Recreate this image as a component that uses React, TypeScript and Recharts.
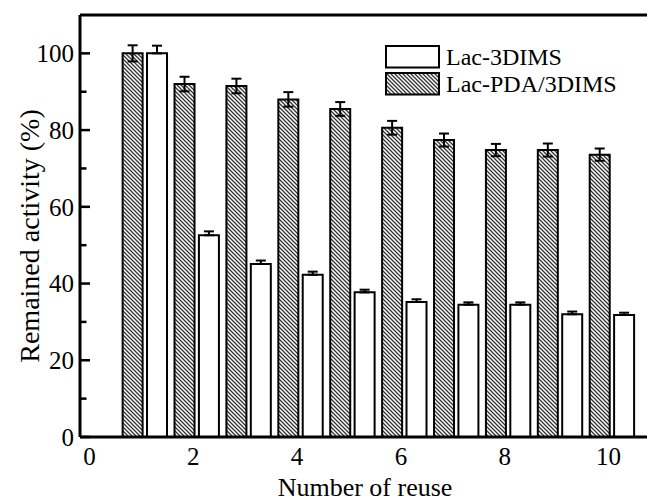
import React from 'react';
import { ComposedChart, Bar, XAxis, YAxis, ErrorBar, ReferenceLine, Label } from 'recharts';

const reuse = [1, 2, 3, 4, 5, 6, 7, 8, 9, 10];
const lac3DIMS = [100, 52.6, 45.1, 42.3, 37.7, 35.2, 34.5, 34.5, 32.0, 31.8];
const lac3DIMSErr = [2.0, 1.0, 0.9, 0.8, 0.7, 0.7, 0.6, 0.6, 0.7, 0.6];
const lacPDA = [100, 92, 91.5, 88, 85.5, 80.6, 77.4, 74.8, 74.8, 73.6];
const lacPDAErr = [2.1, 1.9, 1.9, 1.9, 1.8, 1.8, 1.7, 1.6, 1.7, 1.6];
const xTicks = [0, 2, 4, 6, 8, 10];
const yTicks = [0, 10, 20, 30, 40, 50, 60, 70, 80, 90, 100];
const seriesNames = { lac: 'Lac-3DIMS', pda: 'Lac-PDA/3DIMS' };

const PDA_OFFSET = -0.17;
const LAC_OFFSET = 0.3;

const data = reuse.map((n, i) => ({
  n,
  pdaX: n + PDA_OFFSET,
  lacX: n + LAC_OFFSET,
  pda: lacPDA[i],
  pdaErr: lacPDAErr[i],
  lac: lac3DIMS[i],
  lacErr: [0, lac3DIMSErr[i]],
}));

const FONT = '"Liberation Serif", "Times New Roman", Times, serif';
const HATCH = 'url(#hatch)';

const YTick = (props: any) => {
  const { x, y, payload } = props;
  const v = payload.value;
  const major = v % 20 === 0;
  const ax = x + 6;
  return (
    <g>
      <line x1={ax} x2={ax + (major ? 10 : 6.5)} y1={y} y2={y} stroke="#000" strokeWidth={2.5} />
      {major && (
        <text x={x} y={y} dy="0.35em" textAnchor="end" fontSize={25} fontFamily={FONT} fill="#000">
          {v}
        </text>
      )}
    </g>
  );
};

const XTick = (props: any) => {
  const { x, y, payload } = props;
  return (
    <text x={x} y={y + 28} textAnchor="middle" fontSize={25} fontFamily={FONT} fill="#000">
      {payload.value}
    </text>
  );
};

const LegendBox = () => {
  const items = [
    { key: 'lac', fill: '#fff' },
    { key: 'pda', fill: HATCH },
  ];
  return (
    <div
      style={{
        position: 'absolute',
        left: 385,
        top: 43,
        fontFamily: FONT,
        fontSize: 24,
        color: '#000',
        lineHeight: 1,
      }}
    >
      {items.map((it) => (
        <div key={it.key} style={{ display: 'flex', alignItems: 'center', height: 27 }}>
          <svg width={55} height={24} style={{ display: 'block' }}>
            <rect x={1} y={1} width={53} height={21.5} fill={it.fill} stroke="#000" strokeWidth={2} />
          </svg>
          <span style={{ marginLeft: 6 }}>{(seriesNames as any)[it.key]}</span>
        </div>
      ))}
    </div>
  );
};

export default function App() {
  return (
    <div style={{ position: 'absolute', left: 0, top: 0, width: 647, height: 502, background: '#fff' }}>
      <svg width={0} height={0} style={{ position: 'absolute' }}>
        <defs>
          <pattern id="hatch" patternUnits="userSpaceOnUse" width={4} height={4}>
            <rect x={0} y={0} width={4} height={4} fill="#fff" />
            <path d="M0,0 L4,4 M-1,3 L1,5 M3,-1 L5,1" stroke="#333" strokeWidth={1.3} />
          </pattern>
        </defs>
      </svg>
      <ComposedChart width={647} height={502} data={data} margin={{ top: 15, right: 0, bottom: 0, left: 0 }}>
        <XAxis
          xAxisId="pda"
          dataKey="pdaX"
          type="number"
          domain={[-0.183, 10.742]}
          allowDataOverflow
          ticks={xTicks}
          tick={<XTick />}
          tickLine={false}
          tickSize={0}
          tickMargin={0}
          axisLine={{ stroke: '#000', strokeWidth: 3 }}
          height={65}
        >
          <Label
            content={(p: any) => {
              const vb = p.viewBox;
              return (
                <text x={vb.x + vb.width / 2 + 1.5} y={vb.y + 58.5} textAnchor="middle" fontSize={26} fontFamily={FONT} fill="#000">
                  Number of reuse
                </text>
              );
            }}
          />
        </XAxis>
        <XAxis
          xAxisId="lac"
          dataKey="lacX"
          type="number"
          domain={[-0.183, 10.742]}
          allowDataOverflow
          orientation="top"
          height={0}
          hide
        />
        <YAxis
          type="number"
          domain={[0, 110]}
          allowDataOverflow
          ticks={yTicks}
          tick={<YTick />}
          tickLine={false}
          tickSize={0}
          tickMargin={6}
          interval={0}
          axisLine={{ stroke: '#000', strokeWidth: 3 }}
          width={80}
        >
          <Label
            content={(p: any) => {
              const vb = p.viewBox;
              const cx = 29;
              const cy = vb.y + vb.height / 2 + 10;
              return (
                <text
                  x={cx}
                  y={cy}
                  transform={`rotate(-90 ${cx} ${cy})`}
                  textAnchor="middle"
                  dominantBaseline="central"
                  fontSize={28}
                  fontFamily={FONT}
                  fill="#000"
                >
                  Remained activity (%)
                </text>
              );
            }}
          />
        </YAxis>
        <ReferenceLine xAxisId="pda" y={110} stroke="#000" strokeWidth={3} ifOverflow="visible" />
        <Bar
          xAxisId="pda"
          dataKey="pda"
          name={seriesNames.pda}
          fill={HATCH}
          stroke="#000"
          strokeWidth={2}
          barSize={20}
          isAnimationActive={false}
        >
          <ErrorBar dataKey="pdaErr" width={5} stroke="#000" strokeWidth={2} />
        </Bar>
        <Bar
          xAxisId="lac"
          dataKey="lac"
          name={seriesNames.lac}
          fill="#fff"
          stroke="#000"
          strokeWidth={2}
          barSize={20}
          isAnimationActive={false}
        >
          <ErrorBar dataKey="lacErr" width={5} stroke="#000" strokeWidth={2} />
        </Bar>
      </ComposedChart>
      <LegendBox />
    </div>
  );
}
